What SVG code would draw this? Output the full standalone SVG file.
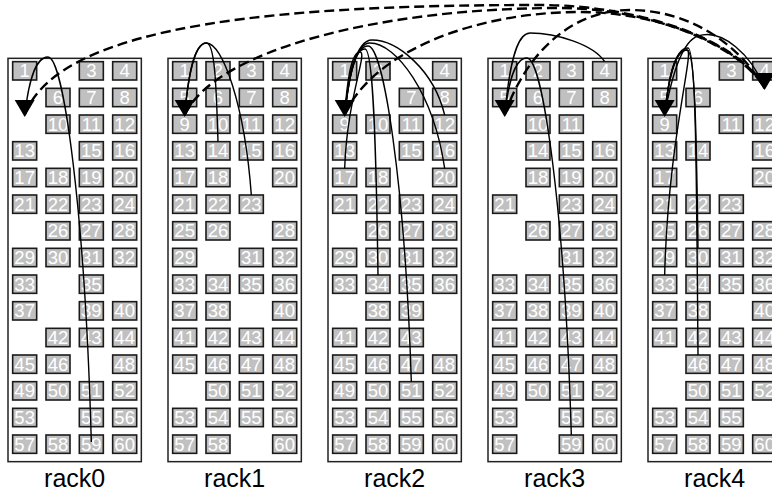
<svg xmlns="http://www.w3.org/2000/svg" xmlns:xlink="http://www.w3.org/1999/xlink" width="772" height="493" viewBox="0 0 772 493">
<style>
.rack{fill:#fff;stroke:#222;stroke-width:1.5}
.b{fill:#c0c0c0;stroke:#1a1a1a;stroke-width:1.6}
.t{font-family:"Liberation Sans",Arial,sans-serif;font-size:18.5px;fill:#fff;text-anchor:middle}
.lbl{font-family:"Liberation Sans",Arial,sans-serif;font-size:25px;fill:#000;text-anchor:middle}
.s{fill:none;stroke:#000;stroke-width:1.4}
.d{fill:none;stroke:#000;stroke-width:2.4;stroke-dasharray:10 5}
.ah{fill:#000}
</style>
<defs>
<path id="ah" d="M-10,-17 L10,-17 L0,0 Z"/>
<symbol id="bx" overflow="visible"><rect class="b" width="24" height="18.33"/></symbol>
</defs>
<rect width="772" height="493" fill="#fff"/>
<g id="racks">
<rect class="rack" x="8" y="58.33" width="133.33" height="403.33"/>
<rect class="rack" x="168" y="58.33" width="133.33" height="403.33"/>
<rect class="rack" x="328" y="58.33" width="133.33" height="403.33"/>
<rect class="rack" x="488" y="58.33" width="133.33" height="403.33"/>
<rect class="rack" x="648" y="58.33" width="133.33" height="403.33"/>
</g>
<g id="rack0">
<g id="r0n1" transform="translate(12.67,61.67)"><use href="#bx"/><text class="t" x="12" y="15.5">1</text></g>
<g id="r0n3" transform="translate(79.33,61.67)"><use href="#bx"/><text class="t" x="12" y="15.5">3</text></g>
<g id="r0n4" transform="translate(112.67,61.67)"><use href="#bx"/><text class="t" x="12" y="15.5">4</text></g>
<g id="r0n6" transform="translate(46,88.33)"><use href="#bx"/><text class="t" x="12" y="15.5">6</text></g>
<g id="r0n7" transform="translate(79.33,88.33)"><use href="#bx"/><text class="t" x="12" y="15.5">7</text></g>
<g id="r0n8" transform="translate(112.67,88.33)"><use href="#bx"/><text class="t" x="12" y="15.5">8</text></g>
<g id="r0n10" transform="translate(46,115)"><use href="#bx"/><text class="t" x="12" y="15.5">10</text></g>
<g id="r0n11" transform="translate(79.33,115)"><use href="#bx"/><text class="t" x="12" y="15.5">11</text></g>
<g id="r0n12" transform="translate(112.67,115)"><use href="#bx"/><text class="t" x="12" y="15.5">12</text></g>
<g id="r0n13" transform="translate(12.67,141.67)"><use href="#bx"/><text class="t" x="12" y="15.5">13</text></g>
<g id="r0n15" transform="translate(79.33,141.67)"><use href="#bx"/><text class="t" x="12" y="15.5">15</text></g>
<g id="r0n16" transform="translate(112.67,141.67)"><use href="#bx"/><text class="t" x="12" y="15.5">16</text></g>
<g id="r0n17" transform="translate(12.67,168.33)"><use href="#bx"/><text class="t" x="12" y="15.5">17</text></g>
<g id="r0n18" transform="translate(46,168.33)"><use href="#bx"/><text class="t" x="12" y="15.5">18</text></g>
<g id="r0n19" transform="translate(79.33,168.33)"><use href="#bx"/><text class="t" x="12" y="15.5">19</text></g>
<g id="r0n20" transform="translate(112.67,168.33)"><use href="#bx"/><text class="t" x="12" y="15.5">20</text></g>
<g id="r0n21" transform="translate(12.67,195)"><use href="#bx"/><text class="t" x="12" y="15.5">21</text></g>
<g id="r0n22" transform="translate(46,195)"><use href="#bx"/><text class="t" x="12" y="15.5">22</text></g>
<g id="r0n23" transform="translate(79.33,195)"><use href="#bx"/><text class="t" x="12" y="15.5">23</text></g>
<g id="r0n24" transform="translate(112.67,195)"><use href="#bx"/><text class="t" x="12" y="15.5">24</text></g>
<g id="r0n26" transform="translate(46,221.67)"><use href="#bx"/><text class="t" x="12" y="15.5">26</text></g>
<g id="r0n27" transform="translate(79.33,221.67)"><use href="#bx"/><text class="t" x="12" y="15.5">27</text></g>
<g id="r0n28" transform="translate(112.67,221.67)"><use href="#bx"/><text class="t" x="12" y="15.5">28</text></g>
<g id="r0n29" transform="translate(12.67,248.33)"><use href="#bx"/><text class="t" x="12" y="15.5">29</text></g>
<g id="r0n30" transform="translate(46,248.33)"><use href="#bx"/><text class="t" x="12" y="15.5">30</text></g>
<g id="r0n31" transform="translate(79.33,248.33)"><use href="#bx"/><text class="t" x="12" y="15.5">31</text></g>
<g id="r0n32" transform="translate(112.67,248.33)"><use href="#bx"/><text class="t" x="12" y="15.5">32</text></g>
<g id="r0n33" transform="translate(12.67,275)"><use href="#bx"/><text class="t" x="12" y="15.5">33</text></g>
<g id="r0n35" transform="translate(79.33,275)"><use href="#bx"/><text class="t" x="12" y="15.5">35</text></g>
<g id="r0n37" transform="translate(12.67,301.67)"><use href="#bx"/><text class="t" x="12" y="15.5">37</text></g>
<g id="r0n39" transform="translate(79.33,301.67)"><use href="#bx"/><text class="t" x="12" y="15.5">39</text></g>
<g id="r0n40" transform="translate(112.67,301.67)"><use href="#bx"/><text class="t" x="12" y="15.5">40</text></g>
<g id="r0n42" transform="translate(46,328.33)"><use href="#bx"/><text class="t" x="12" y="15.5">42</text></g>
<g id="r0n43" transform="translate(79.33,328.33)"><use href="#bx"/><text class="t" x="12" y="15.5">43</text></g>
<g id="r0n44" transform="translate(112.67,328.33)"><use href="#bx"/><text class="t" x="12" y="15.5">44</text></g>
<g id="r0n45" transform="translate(12.67,355)"><use href="#bx"/><text class="t" x="12" y="15.5">45</text></g>
<g id="r0n46" transform="translate(46,355)"><use href="#bx"/><text class="t" x="12" y="15.5">46</text></g>
<g id="r0n48" transform="translate(112.67,355)"><use href="#bx"/><text class="t" x="12" y="15.5">48</text></g>
<g id="r0n49" transform="translate(12.67,381.67)"><use href="#bx"/><text class="t" x="12" y="15.5">49</text></g>
<g id="r0n50" transform="translate(46,381.67)"><use href="#bx"/><text class="t" x="12" y="15.5">50</text></g>
<g id="r0n51" transform="translate(79.33,381.67)"><use href="#bx"/><text class="t" x="12" y="15.5">51</text></g>
<g id="r0n52" transform="translate(112.67,381.67)"><use href="#bx"/><text class="t" x="12" y="15.5">52</text></g>
<g id="r0n53" transform="translate(12.67,408.33)"><use href="#bx"/><text class="t" x="12" y="15.5">53</text></g>
<g id="r0n55" transform="translate(79.33,408.33)"><use href="#bx"/><text class="t" x="12" y="15.5">55</text></g>
<g id="r0n56" transform="translate(112.67,408.33)"><use href="#bx"/><text class="t" x="12" y="15.5">56</text></g>
<g id="r0n57" transform="translate(12.67,435)"><use href="#bx"/><text class="t" x="12" y="15.5">57</text></g>
<g id="r0n58" transform="translate(46,435)"><use href="#bx"/><text class="t" x="12" y="15.5">58</text></g>
<g id="r0n59" transform="translate(79.33,435)"><use href="#bx"/><text class="t" x="12" y="15.5">59</text></g>
<g id="r0n60" transform="translate(112.67,435)"><use href="#bx"/><text class="t" x="12" y="15.5">60</text></g>
<text class="lbl" x="74.67" y="487">rack0</text>
</g>
<g id="rack1">
<g id="r1n1" transform="translate(172.67,61.67)"><use href="#bx"/><text class="t" x="12" y="15.5">1</text></g>
<g id="r1n2" transform="translate(206,61.67)"><use href="#bx"/><text class="t" x="12" y="15.5">2</text></g>
<g id="r1n3" transform="translate(239.33,61.67)"><use href="#bx"/><text class="t" x="12" y="15.5">3</text></g>
<g id="r1n4" transform="translate(272.67,61.67)"><use href="#bx"/><text class="t" x="12" y="15.5">4</text></g>
<g id="r1n5" transform="translate(172.67,88.33)"><use href="#bx"/><text class="t" x="12" y="15.5">5</text></g>
<g id="r1n6" transform="translate(206,88.33)"><use href="#bx"/><text class="t" x="12" y="15.5">6</text></g>
<g id="r1n7" transform="translate(239.33,88.33)"><use href="#bx"/><text class="t" x="12" y="15.5">7</text></g>
<g id="r1n8" transform="translate(272.67,88.33)"><use href="#bx"/><text class="t" x="12" y="15.5">8</text></g>
<g id="r1n9" transform="translate(172.67,115)"><use href="#bx"/><text class="t" x="12" y="15.5">9</text></g>
<g id="r1n10" transform="translate(206,115)"><use href="#bx"/><text class="t" x="12" y="15.5">10</text></g>
<g id="r1n11" transform="translate(239.33,115)"><use href="#bx"/><text class="t" x="12" y="15.5">11</text></g>
<g id="r1n12" transform="translate(272.67,115)"><use href="#bx"/><text class="t" x="12" y="15.5">12</text></g>
<g id="r1n13" transform="translate(172.67,141.67)"><use href="#bx"/><text class="t" x="12" y="15.5">13</text></g>
<g id="r1n14" transform="translate(206,141.67)"><use href="#bx"/><text class="t" x="12" y="15.5">14</text></g>
<g id="r1n15" transform="translate(239.33,141.67)"><use href="#bx"/><text class="t" x="12" y="15.5">15</text></g>
<g id="r1n16" transform="translate(272.67,141.67)"><use href="#bx"/><text class="t" x="12" y="15.5">16</text></g>
<g id="r1n17" transform="translate(172.67,168.33)"><use href="#bx"/><text class="t" x="12" y="15.5">17</text></g>
<g id="r1n18" transform="translate(206,168.33)"><use href="#bx"/><text class="t" x="12" y="15.5">18</text></g>
<g id="r1n20" transform="translate(272.67,168.33)"><use href="#bx"/><text class="t" x="12" y="15.5">20</text></g>
<g id="r1n21" transform="translate(172.67,195)"><use href="#bx"/><text class="t" x="12" y="15.5">21</text></g>
<g id="r1n22" transform="translate(206,195)"><use href="#bx"/><text class="t" x="12" y="15.5">22</text></g>
<g id="r1n23" transform="translate(239.33,195)"><use href="#bx"/><text class="t" x="12" y="15.5">23</text></g>
<g id="r1n25" transform="translate(172.67,221.67)"><use href="#bx"/><text class="t" x="12" y="15.5">25</text></g>
<g id="r1n26" transform="translate(206,221.67)"><use href="#bx"/><text class="t" x="12" y="15.5">26</text></g>
<g id="r1n28" transform="translate(272.67,221.67)"><use href="#bx"/><text class="t" x="12" y="15.5">28</text></g>
<g id="r1n29" transform="translate(172.67,248.33)"><use href="#bx"/><text class="t" x="12" y="15.5">29</text></g>
<g id="r1n31" transform="translate(239.33,248.33)"><use href="#bx"/><text class="t" x="12" y="15.5">31</text></g>
<g id="r1n32" transform="translate(272.67,248.33)"><use href="#bx"/><text class="t" x="12" y="15.5">32</text></g>
<g id="r1n33" transform="translate(172.67,275)"><use href="#bx"/><text class="t" x="12" y="15.5">33</text></g>
<g id="r1n34" transform="translate(206,275)"><use href="#bx"/><text class="t" x="12" y="15.5">34</text></g>
<g id="r1n35" transform="translate(239.33,275)"><use href="#bx"/><text class="t" x="12" y="15.5">35</text></g>
<g id="r1n36" transform="translate(272.67,275)"><use href="#bx"/><text class="t" x="12" y="15.5">36</text></g>
<g id="r1n37" transform="translate(172.67,301.67)"><use href="#bx"/><text class="t" x="12" y="15.5">37</text></g>
<g id="r1n38" transform="translate(206,301.67)"><use href="#bx"/><text class="t" x="12" y="15.5">38</text></g>
<g id="r1n40" transform="translate(272.67,301.67)"><use href="#bx"/><text class="t" x="12" y="15.5">40</text></g>
<g id="r1n41" transform="translate(172.67,328.33)"><use href="#bx"/><text class="t" x="12" y="15.5">41</text></g>
<g id="r1n42" transform="translate(206,328.33)"><use href="#bx"/><text class="t" x="12" y="15.5">42</text></g>
<g id="r1n43" transform="translate(239.33,328.33)"><use href="#bx"/><text class="t" x="12" y="15.5">43</text></g>
<g id="r1n44" transform="translate(272.67,328.33)"><use href="#bx"/><text class="t" x="12" y="15.5">44</text></g>
<g id="r1n45" transform="translate(172.67,355)"><use href="#bx"/><text class="t" x="12" y="15.5">45</text></g>
<g id="r1n46" transform="translate(206,355)"><use href="#bx"/><text class="t" x="12" y="15.5">46</text></g>
<g id="r1n47" transform="translate(239.33,355)"><use href="#bx"/><text class="t" x="12" y="15.5">47</text></g>
<g id="r1n48" transform="translate(272.67,355)"><use href="#bx"/><text class="t" x="12" y="15.5">48</text></g>
<g id="r1n50" transform="translate(206,381.67)"><use href="#bx"/><text class="t" x="12" y="15.5">50</text></g>
<g id="r1n51" transform="translate(239.33,381.67)"><use href="#bx"/><text class="t" x="12" y="15.5">51</text></g>
<g id="r1n52" transform="translate(272.67,381.67)"><use href="#bx"/><text class="t" x="12" y="15.5">52</text></g>
<g id="r1n53" transform="translate(172.67,408.33)"><use href="#bx"/><text class="t" x="12" y="15.5">53</text></g>
<g id="r1n54" transform="translate(206,408.33)"><use href="#bx"/><text class="t" x="12" y="15.5">54</text></g>
<g id="r1n55" transform="translate(239.33,408.33)"><use href="#bx"/><text class="t" x="12" y="15.5">55</text></g>
<g id="r1n56" transform="translate(272.67,408.33)"><use href="#bx"/><text class="t" x="12" y="15.5">56</text></g>
<g id="r1n57" transform="translate(172.67,435)"><use href="#bx"/><text class="t" x="12" y="15.5">57</text></g>
<g id="r1n58" transform="translate(206,435)"><use href="#bx"/><text class="t" x="12" y="15.5">58</text></g>
<g id="r1n60" transform="translate(272.67,435)"><use href="#bx"/><text class="t" x="12" y="15.5">60</text></g>
<text class="lbl" x="234.67" y="487">rack1</text>
</g>
<g id="rack2">
<g id="r2n1" transform="translate(332.67,61.67)"><use href="#bx"/><text class="t" x="12" y="15.5">1</text></g>
<g id="r2n2" transform="translate(366,61.67)"><use href="#bx"/><text class="t" x="12" y="15.5">2</text></g>
<g id="r2n4" transform="translate(432.67,61.67)"><use href="#bx"/><text class="t" x="12" y="15.5">4</text></g>
<g id="r2n7" transform="translate(399.33,88.33)"><use href="#bx"/><text class="t" x="12" y="15.5">7</text></g>
<g id="r2n8" transform="translate(432.67,88.33)"><use href="#bx"/><text class="t" x="12" y="15.5">8</text></g>
<g id="r2n9" transform="translate(332.67,115)"><use href="#bx"/><text class="t" x="12" y="15.5">9</text></g>
<g id="r2n10" transform="translate(366,115)"><use href="#bx"/><text class="t" x="12" y="15.5">10</text></g>
<g id="r2n11" transform="translate(399.33,115)"><use href="#bx"/><text class="t" x="12" y="15.5">11</text></g>
<g id="r2n12" transform="translate(432.67,115)"><use href="#bx"/><text class="t" x="12" y="15.5">12</text></g>
<g id="r2n13" transform="translate(332.67,141.67)"><use href="#bx"/><text class="t" x="12" y="15.5">13</text></g>
<g id="r2n15" transform="translate(399.33,141.67)"><use href="#bx"/><text class="t" x="12" y="15.5">15</text></g>
<g id="r2n16" transform="translate(432.67,141.67)"><use href="#bx"/><text class="t" x="12" y="15.5">16</text></g>
<g id="r2n17" transform="translate(332.67,168.33)"><use href="#bx"/><text class="t" x="12" y="15.5">17</text></g>
<g id="r2n18" transform="translate(366,168.33)"><use href="#bx"/><text class="t" x="12" y="15.5">18</text></g>
<g id="r2n20" transform="translate(432.67,168.33)"><use href="#bx"/><text class="t" x="12" y="15.5">20</text></g>
<g id="r2n21" transform="translate(332.67,195)"><use href="#bx"/><text class="t" x="12" y="15.5">21</text></g>
<g id="r2n22" transform="translate(366,195)"><use href="#bx"/><text class="t" x="12" y="15.5">22</text></g>
<g id="r2n23" transform="translate(399.33,195)"><use href="#bx"/><text class="t" x="12" y="15.5">23</text></g>
<g id="r2n24" transform="translate(432.67,195)"><use href="#bx"/><text class="t" x="12" y="15.5">24</text></g>
<g id="r2n26" transform="translate(366,221.67)"><use href="#bx"/><text class="t" x="12" y="15.5">26</text></g>
<g id="r2n27" transform="translate(399.33,221.67)"><use href="#bx"/><text class="t" x="12" y="15.5">27</text></g>
<g id="r2n28" transform="translate(432.67,221.67)"><use href="#bx"/><text class="t" x="12" y="15.5">28</text></g>
<g id="r2n29" transform="translate(332.67,248.33)"><use href="#bx"/><text class="t" x="12" y="15.5">29</text></g>
<g id="r2n30" transform="translate(366,248.33)"><use href="#bx"/><text class="t" x="12" y="15.5">30</text></g>
<g id="r2n31" transform="translate(399.33,248.33)"><use href="#bx"/><text class="t" x="12" y="15.5">31</text></g>
<g id="r2n32" transform="translate(432.67,248.33)"><use href="#bx"/><text class="t" x="12" y="15.5">32</text></g>
<g id="r2n33" transform="translate(332.67,275)"><use href="#bx"/><text class="t" x="12" y="15.5">33</text></g>
<g id="r2n34" transform="translate(366,275)"><use href="#bx"/><text class="t" x="12" y="15.5">34</text></g>
<g id="r2n35" transform="translate(399.33,275)"><use href="#bx"/><text class="t" x="12" y="15.5">35</text></g>
<g id="r2n36" transform="translate(432.67,275)"><use href="#bx"/><text class="t" x="12" y="15.5">36</text></g>
<g id="r2n38" transform="translate(366,301.67)"><use href="#bx"/><text class="t" x="12" y="15.5">38</text></g>
<g id="r2n39" transform="translate(399.33,301.67)"><use href="#bx"/><text class="t" x="12" y="15.5">39</text></g>
<g id="r2n41" transform="translate(332.67,328.33)"><use href="#bx"/><text class="t" x="12" y="15.5">41</text></g>
<g id="r2n42" transform="translate(366,328.33)"><use href="#bx"/><text class="t" x="12" y="15.5">42</text></g>
<g id="r2n43" transform="translate(399.33,328.33)"><use href="#bx"/><text class="t" x="12" y="15.5">43</text></g>
<g id="r2n45" transform="translate(332.67,355)"><use href="#bx"/><text class="t" x="12" y="15.5">45</text></g>
<g id="r2n46" transform="translate(366,355)"><use href="#bx"/><text class="t" x="12" y="15.5">46</text></g>
<g id="r2n47" transform="translate(399.33,355)"><use href="#bx"/><text class="t" x="12" y="15.5">47</text></g>
<g id="r2n48" transform="translate(432.67,355)"><use href="#bx"/><text class="t" x="12" y="15.5">48</text></g>
<g id="r2n49" transform="translate(332.67,381.67)"><use href="#bx"/><text class="t" x="12" y="15.5">49</text></g>
<g id="r2n50" transform="translate(366,381.67)"><use href="#bx"/><text class="t" x="12" y="15.5">50</text></g>
<g id="r2n51" transform="translate(399.33,381.67)"><use href="#bx"/><text class="t" x="12" y="15.5">51</text></g>
<g id="r2n52" transform="translate(432.67,381.67)"><use href="#bx"/><text class="t" x="12" y="15.5">52</text></g>
<g id="r2n53" transform="translate(332.67,408.33)"><use href="#bx"/><text class="t" x="12" y="15.5">53</text></g>
<g id="r2n54" transform="translate(366,408.33)"><use href="#bx"/><text class="t" x="12" y="15.5">54</text></g>
<g id="r2n55" transform="translate(399.33,408.33)"><use href="#bx"/><text class="t" x="12" y="15.5">55</text></g>
<g id="r2n56" transform="translate(432.67,408.33)"><use href="#bx"/><text class="t" x="12" y="15.5">56</text></g>
<g id="r2n57" transform="translate(332.67,435)"><use href="#bx"/><text class="t" x="12" y="15.5">57</text></g>
<g id="r2n58" transform="translate(366,435)"><use href="#bx"/><text class="t" x="12" y="15.5">58</text></g>
<g id="r2n59" transform="translate(399.33,435)"><use href="#bx"/><text class="t" x="12" y="15.5">59</text></g>
<g id="r2n60" transform="translate(432.67,435)"><use href="#bx"/><text class="t" x="12" y="15.5">60</text></g>
<text class="lbl" x="394.67" y="487">rack2</text>
</g>
<g id="rack3">
<g id="r3n1" transform="translate(492.67,61.67)"><use href="#bx"/><text class="t" x="12" y="15.5">1</text></g>
<g id="r3n2" transform="translate(526,61.67)"><use href="#bx"/><text class="t" x="12" y="15.5">2</text></g>
<g id="r3n3" transform="translate(559.33,61.67)"><use href="#bx"/><text class="t" x="12" y="15.5">3</text></g>
<g id="r3n4" transform="translate(592.67,61.67)"><use href="#bx"/><text class="t" x="12" y="15.5">4</text></g>
<g id="r3n5" transform="translate(492.67,88.33)"><use href="#bx"/><text class="t" x="12" y="15.5">5</text></g>
<g id="r3n6" transform="translate(526,88.33)"><use href="#bx"/><text class="t" x="12" y="15.5">6</text></g>
<g id="r3n7" transform="translate(559.33,88.33)"><use href="#bx"/><text class="t" x="12" y="15.5">7</text></g>
<g id="r3n8" transform="translate(592.67,88.33)"><use href="#bx"/><text class="t" x="12" y="15.5">8</text></g>
<g id="r3n10" transform="translate(526,115)"><use href="#bx"/><text class="t" x="12" y="15.5">10</text></g>
<g id="r3n11" transform="translate(559.33,115)"><use href="#bx"/><text class="t" x="12" y="15.5">11</text></g>
<g id="r3n14" transform="translate(526,141.67)"><use href="#bx"/><text class="t" x="12" y="15.5">14</text></g>
<g id="r3n15" transform="translate(559.33,141.67)"><use href="#bx"/><text class="t" x="12" y="15.5">15</text></g>
<g id="r3n16" transform="translate(592.67,141.67)"><use href="#bx"/><text class="t" x="12" y="15.5">16</text></g>
<g id="r3n18" transform="translate(526,168.33)"><use href="#bx"/><text class="t" x="12" y="15.5">18</text></g>
<g id="r3n19" transform="translate(559.33,168.33)"><use href="#bx"/><text class="t" x="12" y="15.5">19</text></g>
<g id="r3n20" transform="translate(592.67,168.33)"><use href="#bx"/><text class="t" x="12" y="15.5">20</text></g>
<g id="r3n21" transform="translate(492.67,195)"><use href="#bx"/><text class="t" x="12" y="15.5">21</text></g>
<g id="r3n23" transform="translate(559.33,195)"><use href="#bx"/><text class="t" x="12" y="15.5">23</text></g>
<g id="r3n24" transform="translate(592.67,195)"><use href="#bx"/><text class="t" x="12" y="15.5">24</text></g>
<g id="r3n26" transform="translate(526,221.67)"><use href="#bx"/><text class="t" x="12" y="15.5">26</text></g>
<g id="r3n27" transform="translate(559.33,221.67)"><use href="#bx"/><text class="t" x="12" y="15.5">27</text></g>
<g id="r3n28" transform="translate(592.67,221.67)"><use href="#bx"/><text class="t" x="12" y="15.5">28</text></g>
<g id="r3n31" transform="translate(559.33,248.33)"><use href="#bx"/><text class="t" x="12" y="15.5">31</text></g>
<g id="r3n32" transform="translate(592.67,248.33)"><use href="#bx"/><text class="t" x="12" y="15.5">32</text></g>
<g id="r3n33" transform="translate(492.67,275)"><use href="#bx"/><text class="t" x="12" y="15.5">33</text></g>
<g id="r3n34" transform="translate(526,275)"><use href="#bx"/><text class="t" x="12" y="15.5">34</text></g>
<g id="r3n35" transform="translate(559.33,275)"><use href="#bx"/><text class="t" x="12" y="15.5">35</text></g>
<g id="r3n36" transform="translate(592.67,275)"><use href="#bx"/><text class="t" x="12" y="15.5">36</text></g>
<g id="r3n37" transform="translate(492.67,301.67)"><use href="#bx"/><text class="t" x="12" y="15.5">37</text></g>
<g id="r3n38" transform="translate(526,301.67)"><use href="#bx"/><text class="t" x="12" y="15.5">38</text></g>
<g id="r3n39" transform="translate(559.33,301.67)"><use href="#bx"/><text class="t" x="12" y="15.5">39</text></g>
<g id="r3n40" transform="translate(592.67,301.67)"><use href="#bx"/><text class="t" x="12" y="15.5">40</text></g>
<g id="r3n41" transform="translate(492.67,328.33)"><use href="#bx"/><text class="t" x="12" y="15.5">41</text></g>
<g id="r3n42" transform="translate(526,328.33)"><use href="#bx"/><text class="t" x="12" y="15.5">42</text></g>
<g id="r3n43" transform="translate(559.33,328.33)"><use href="#bx"/><text class="t" x="12" y="15.5">43</text></g>
<g id="r3n44" transform="translate(592.67,328.33)"><use href="#bx"/><text class="t" x="12" y="15.5">44</text></g>
<g id="r3n45" transform="translate(492.67,355)"><use href="#bx"/><text class="t" x="12" y="15.5">45</text></g>
<g id="r3n46" transform="translate(526,355)"><use href="#bx"/><text class="t" x="12" y="15.5">46</text></g>
<g id="r3n47" transform="translate(559.33,355)"><use href="#bx"/><text class="t" x="12" y="15.5">47</text></g>
<g id="r3n48" transform="translate(592.67,355)"><use href="#bx"/><text class="t" x="12" y="15.5">48</text></g>
<g id="r3n49" transform="translate(492.67,381.67)"><use href="#bx"/><text class="t" x="12" y="15.5">49</text></g>
<g id="r3n50" transform="translate(526,381.67)"><use href="#bx"/><text class="t" x="12" y="15.5">50</text></g>
<g id="r3n51" transform="translate(559.33,381.67)"><use href="#bx"/><text class="t" x="12" y="15.5">51</text></g>
<g id="r3n52" transform="translate(592.67,381.67)"><use href="#bx"/><text class="t" x="12" y="15.5">52</text></g>
<g id="r3n53" transform="translate(492.67,408.33)"><use href="#bx"/><text class="t" x="12" y="15.5">53</text></g>
<g id="r3n55" transform="translate(559.33,408.33)"><use href="#bx"/><text class="t" x="12" y="15.5">55</text></g>
<g id="r3n56" transform="translate(592.67,408.33)"><use href="#bx"/><text class="t" x="12" y="15.5">56</text></g>
<g id="r3n57" transform="translate(492.67,435)"><use href="#bx"/><text class="t" x="12" y="15.5">57</text></g>
<g id="r3n59" transform="translate(559.33,435)"><use href="#bx"/><text class="t" x="12" y="15.5">59</text></g>
<g id="r3n60" transform="translate(592.67,435)"><use href="#bx"/><text class="t" x="12" y="15.5">60</text></g>
<text class="lbl" x="554.67" y="487">rack3</text>
</g>
<g id="rack4">
<g id="r4n1" transform="translate(652.67,61.67)"><use href="#bx"/><text class="t" x="12" y="15.5">1</text></g>
<g id="r4n3" transform="translate(719.33,61.67)"><use href="#bx"/><text class="t" x="12" y="15.5">3</text></g>
<g id="r4n4" transform="translate(752.67,61.67)"><use href="#bx"/><text class="t" x="12" y="15.5">4</text></g>
<g id="r4n5" transform="translate(652.67,88.33)"><use href="#bx"/><text class="t" x="12" y="15.5">5</text></g>
<g id="r4n6" transform="translate(686,88.33)"><use href="#bx"/><text class="t" x="12" y="15.5">6</text></g>
<g id="r4n9" transform="translate(652.67,115)"><use href="#bx"/><text class="t" x="12" y="15.5">9</text></g>
<g id="r4n11" transform="translate(719.33,115)"><use href="#bx"/><text class="t" x="12" y="15.5">11</text></g>
<g id="r4n12" transform="translate(752.67,115)"><use href="#bx"/><text class="t" x="12" y="15.5">12</text></g>
<g id="r4n13" transform="translate(652.67,141.67)"><use href="#bx"/><text class="t" x="12" y="15.5">13</text></g>
<g id="r4n14" transform="translate(686,141.67)"><use href="#bx"/><text class="t" x="12" y="15.5">14</text></g>
<g id="r4n16" transform="translate(752.67,141.67)"><use href="#bx"/><text class="t" x="12" y="15.5">16</text></g>
<g id="r4n17" transform="translate(652.67,168.33)"><use href="#bx"/><text class="t" x="12" y="15.5">17</text></g>
<g id="r4n20" transform="translate(752.67,168.33)"><use href="#bx"/><text class="t" x="12" y="15.5">20</text></g>
<g id="r4n21" transform="translate(652.67,195)"><use href="#bx"/><text class="t" x="12" y="15.5">21</text></g>
<g id="r4n22" transform="translate(686,195)"><use href="#bx"/><text class="t" x="12" y="15.5">22</text></g>
<g id="r4n23" transform="translate(719.33,195)"><use href="#bx"/><text class="t" x="12" y="15.5">23</text></g>
<g id="r4n25" transform="translate(652.67,221.67)"><use href="#bx"/><text class="t" x="12" y="15.5">25</text></g>
<g id="r4n26" transform="translate(686,221.67)"><use href="#bx"/><text class="t" x="12" y="15.5">26</text></g>
<g id="r4n27" transform="translate(719.33,221.67)"><use href="#bx"/><text class="t" x="12" y="15.5">27</text></g>
<g id="r4n28" transform="translate(752.67,221.67)"><use href="#bx"/><text class="t" x="12" y="15.5">28</text></g>
<g id="r4n29" transform="translate(652.67,248.33)"><use href="#bx"/><text class="t" x="12" y="15.5">29</text></g>
<g id="r4n30" transform="translate(686,248.33)"><use href="#bx"/><text class="t" x="12" y="15.5">30</text></g>
<g id="r4n31" transform="translate(719.33,248.33)"><use href="#bx"/><text class="t" x="12" y="15.5">31</text></g>
<g id="r4n32" transform="translate(752.67,248.33)"><use href="#bx"/><text class="t" x="12" y="15.5">32</text></g>
<g id="r4n33" transform="translate(652.67,275)"><use href="#bx"/><text class="t" x="12" y="15.5">33</text></g>
<g id="r4n34" transform="translate(686,275)"><use href="#bx"/><text class="t" x="12" y="15.5">34</text></g>
<g id="r4n35" transform="translate(719.33,275)"><use href="#bx"/><text class="t" x="12" y="15.5">35</text></g>
<g id="r4n36" transform="translate(752.67,275)"><use href="#bx"/><text class="t" x="12" y="15.5">36</text></g>
<g id="r4n37" transform="translate(652.67,301.67)"><use href="#bx"/><text class="t" x="12" y="15.5">37</text></g>
<g id="r4n38" transform="translate(686,301.67)"><use href="#bx"/><text class="t" x="12" y="15.5">38</text></g>
<g id="r4n40" transform="translate(752.67,301.67)"><use href="#bx"/><text class="t" x="12" y="15.5">40</text></g>
<g id="r4n41" transform="translate(652.67,328.33)"><use href="#bx"/><text class="t" x="12" y="15.5">41</text></g>
<g id="r4n42" transform="translate(686,328.33)"><use href="#bx"/><text class="t" x="12" y="15.5">42</text></g>
<g id="r4n43" transform="translate(719.33,328.33)"><use href="#bx"/><text class="t" x="12" y="15.5">43</text></g>
<g id="r4n44" transform="translate(752.67,328.33)"><use href="#bx"/><text class="t" x="12" y="15.5">44</text></g>
<g id="r4n46" transform="translate(686,355)"><use href="#bx"/><text class="t" x="12" y="15.5">46</text></g>
<g id="r4n47" transform="translate(719.33,355)"><use href="#bx"/><text class="t" x="12" y="15.5">47</text></g>
<g id="r4n48" transform="translate(752.67,355)"><use href="#bx"/><text class="t" x="12" y="15.5">48</text></g>
<g id="r4n50" transform="translate(686,381.67)"><use href="#bx"/><text class="t" x="12" y="15.5">50</text></g>
<g id="r4n51" transform="translate(719.33,381.67)"><use href="#bx"/><text class="t" x="12" y="15.5">51</text></g>
<g id="r4n52" transform="translate(752.67,381.67)"><use href="#bx"/><text class="t" x="12" y="15.5">52</text></g>
<g id="r4n53" transform="translate(652.67,408.33)"><use href="#bx"/><text class="t" x="12" y="15.5">53</text></g>
<g id="r4n54" transform="translate(686,408.33)"><use href="#bx"/><text class="t" x="12" y="15.5">54</text></g>
<g id="r4n55" transform="translate(719.33,408.33)"><use href="#bx"/><text class="t" x="12" y="15.5">55</text></g>
<g id="r4n57" transform="translate(652.67,435)"><use href="#bx"/><text class="t" x="12" y="15.5">57</text></g>
<g id="r4n58" transform="translate(686,435)"><use href="#bx"/><text class="t" x="12" y="15.5">58</text></g>
<g id="r4n59" transform="translate(719.33,435)"><use href="#bx"/><text class="t" x="12" y="15.5">59</text></g>
<g id="r4n60" transform="translate(752.67,435)"><use href="#bx"/><text class="t" x="12" y="15.5">60</text></g>
<text class="lbl" x="714.67" y="487">rack4</text>
</g>
<g id="connectors">
<path class="s" d="M91.33,442 C84.83,208.2 63.2,57 48,57 C34,57 28.17,86 24.67,115"/>
<path class="s" d="M218,141.67 C216.27,82.47 214.5,43 206.5,43 C193.4,43 187.94,79 184.67,115"/>
<path class="s" d="M251.33,195 C244.6,103.8 222.2,43 206.5,43 C193.4,43 187.94,79 184.67,115"/>
<path class="s" d="M444.67,115 C433.77,70 397.4,40 372,40 C355.6,40 348.77,77.5 344.67,115"/>
<path class="s" d="M444.67,168.33 C433.47,93.1 396.1,43 370,43 C354.8,43 348.47,79 344.67,115"/>
<path class="s" d="M411.33,381.67 C404.83,180.3 383.2,46 368,46 C354,46 348.17,80.5 344.67,115"/>
<path class="s" d="M378,275 C376.05,139.4 373,49 365,49 C352.8,49 347.72,82 344.67,115"/>
<path class="s" d="M344.67,168.33 C346.97,98.5 368,52 360,52 C350.8,52 346.97,83.5 344.67,115"/>
<path class="s" d="M604.67,61.67 C593.47,44.5 556.1,33 530,33 C514.8,33 508.47,74 504.67,115"/>
<path class="s" d="M571.33,435 C564.68,208.8 542.5,58 527,58 C513.6,58 508,86.5 504.67,115"/>
<path class="s" d="M664.67,275 C668,140 695,50 687,50 C673.6,50 668,82.5 664.67,115"/>
<path class="s" d="M698,248.33 C696.35,129.3 695,50 687,50 C673.6,50 668,82.5 664.67,115"/>
<path class="s" d="M698,355 C696.5,170.8 696,48 688,48 C674,48 668.2,81.5 664.67,115"/>
<path class="s" d="M664.67,115 C670,85 680,42 698,36 C722,28 752,55 764.67,88.33"/>
<path class="d" d="M24.67,115 C60,20 300,5 540,5 C640,5 740,40 764.67,88.33"/>
<path class="d" d="M184.67,115 C215,50 380,8 560,8 C650,8 740,45 764.67,88.33"/>
<path class="d" d="M344.67,115 C370,55 470,12 580,12 C660,12 740,45 764.67,88.33"/>
<path class="d" d="M504.67,115 C525,55 570,10 630,10 C690,10 740,45 764.67,88.33"/>
</g>
<g id="arrowheads">
<use href="#ah" class="ah" x="24.67" y="117"/>
<use href="#ah" class="ah" x="184.67" y="117"/>
<use href="#ah" class="ah" x="344.67" y="117"/>
<use href="#ah" class="ah" x="504.67" y="117"/>
<use href="#ah" class="ah" x="664.67" y="117"/>
<use href="#ah" class="ah" x="764.67" y="90"/>
</g>
</svg>
